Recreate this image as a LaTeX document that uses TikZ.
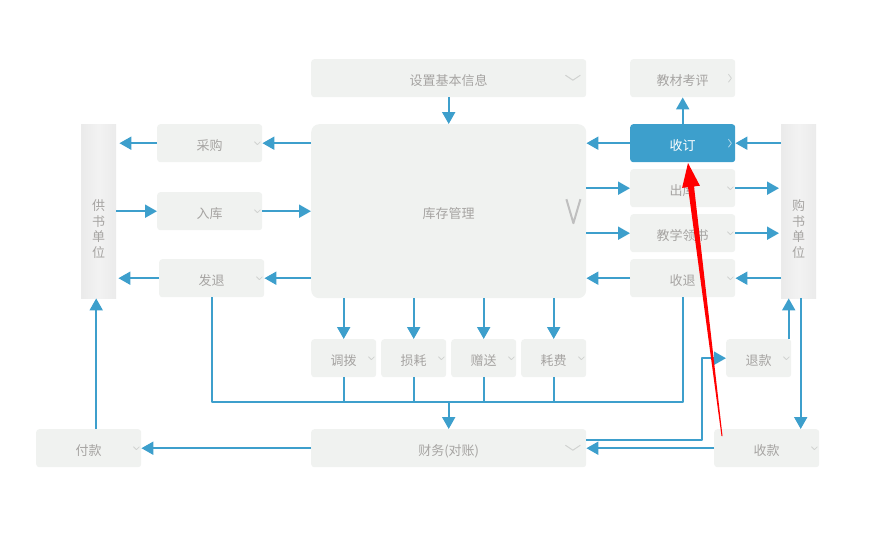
\documentclass[tikz,border=0pt]{standalone}
\usepackage{fontspec}
\setmainfont{Noto Sans CJK SC}
\usetikzlibrary{arrows.meta}
\definecolor{flowblue}{HTML}{3D9FCC}
\definecolor{boxgray}{HTML}{F0F2F0}
\definecolor{txtgray}{HTML}{A6A4A2}
\definecolor{chevgray}{HTML}{D0D2D0}
\begin{document}
\begin{tikzpicture}[x=1pt,y=-1pt,>={Triangle[length=12pt,width=13pt]},
    font=\fontsize{13}{15.5}\selectfont, line join=round]
  \tikzset{box/.style={fill=boxgray, rounded corners=3pt, anchor=north west, inner sep=0pt,
      minimum height=38pt, text height=15pt, text depth=0pt, text=txtgray},
    side/.style={left color=black!8, right color=black!8, middle color=black!5,
      anchor=north west, inner sep=0pt, minimum width=35pt, minimum height=174pt},
    flow/.style={draw=flowblue, line width=2pt},
    chev/.style={draw=chevgray, line width=0.8pt}}
  \useasboundingbox (0,0) rectangle (893,533);
  % top row
  \node[box, minimum width=275pt] (base) at (311,59) {设置基本信息};
  \node[box, minimum width=105pt] (pj) at (630,59) {教材考评};
  % middle
  \node[box, minimum width=275pt, minimum height=174pt, rounded corners=8pt] (kc) at (311,124) {库存管理};
  \node[box, minimum width=105pt] (cg) at (157,124) {采购};
  \node[box, minimum width=105pt] (rk) at (157,192) {入库};
  \node[box, minimum width=105pt] (ft) at (159,259) {发退};
  \node[box, minimum width=105pt, fill=flowblue, text=white] (sd) at (630,124) {收订};
  \node[box, minimum width=105pt] (ck) at (630,169) {出库};
  \node[box, minimum width=105pt] (lq) at (630,214) {教学领书};
  \node[box, minimum width=105pt] (st) at (630,259) {收退};
  \node[side] (gy) at (81,124) {};
  \node[side] (gs) at (781,124) {};
  \node[text=txtgray, align=center, inner sep=0pt] (gylabel) at (98.5,229) {供\\书\\单\\位};
  \node[text=txtgray, align=center, inner sep=0pt] (gslabel) at (798.5,229) {购\\书\\单\\位};
  % lower row
  \node[box, minimum width=65pt] (db) at (311,339) {调拨};
  \node[box, minimum width=65pt] (sh) at (381,339) {损耗};
  \node[box, minimum width=65pt] (zs) at (451,339) {赠送};
  \node[box, minimum width=65pt] (hf) at (521,339) {耗费};
  \node[box, minimum width=65pt] (tk) at (726,339) {退款};
  \node[box, minimum width=105pt] (fk) at (36,429) {付款};
  \node[box, minimum width=275pt] (cw) at (311,429) {财务(对账)};
  \node[box, minimum width=105pt] (sk) at (714,429) {收款};
  \coordinate (bus) at (0,402);
  \coordinate (bend) at (702,0);
  % connectors
  \draw[flow,->] (base) -- (kc);
  \draw[flow,->] (sd) -- (pj);
  \draw[flow,->] (kc.west |- cg) -- (cg);
  \draw[flow,->, shorten >=3pt] (cg) -- (cg -| gy.east);
  \draw[flow,->] (gy.east |- rk) -- (rk);
  \draw[flow,->] (rk) -- (rk -| kc.west);
  \draw[flow,->] (kc.west |- ft) -- (ft);
  \draw[flow,->, shorten >=2pt] (ft) -- (ft -| gy.east);
  \draw[flow,->] (sd) -- (sd -| kc.east);
  \draw[flow,->] (gs.west |- sd) -- (sd);
  \draw[flow,->] (kc.east |- ck) -- (ck);
  \draw[flow,->, shorten >=2pt] (ck) -- (ck -| gs.west);
  \draw[flow,->] (kc.east |- lq) -- (lq);
  \draw[flow,->, shorten >=2pt] (lq) -- (lq -| gs.west);
  \draw[flow,->] (st) -- (st -| kc.east);
  \draw[flow,->] (gs.west |- st) -- (st);
  \foreach \n in {db,sh,zs,hf} {
    \draw[flow,->] (kc.south -| \n) -- (\n);
    \draw[flow] (\n) -- (\n |- bus);
  }
  \draw[flow] (ft) |- (bus -| st.south) -- (st);
  \draw[flow,->] (bus -| cw) -- (cw);
  \draw[flow,->] ([xshift=-2.5pt]gy.south |- fk.north) -- ([xshift=-2.5pt]gy.south);
  \draw[flow,->] (cw) -- (fk);
  \draw[flow,->] (sk) -- (cw);
  \draw[flow,->] ([yshift=8pt]cw.east) -- ([yshift=8pt]cw.east -| bend) |- (tk);
  \draw[flow,->] ([xshift=-10pt]gs.south |- tk.north) -- ([xshift=-10pt]gs.south);
  \draw[flow,->] ([xshift=2pt]gs.south) -- ([xshift=2pt]gs.south |- sk.north);
  % chevrons
  \foreach \n in {cg,rk,ft,ck,lq,st,db,sh,zs,hf,fk,tk,sk}
    \draw[chev] ([xshift=-8pt,yshift=1.5pt]\n.east) -- ++(3,3) -- ++(3,-3);
  \draw[chev] ([xshift=-7pt,yshift=4pt]pj.east) -- ++(3,4) -- ++(-3,4);
  \draw[chev, draw=white!60!flowblue] ([xshift=-7pt,yshift=4pt]sd.east) -- ++(3,4) -- ++(-3,4);
  \draw[chev, line width=1pt] ([xshift=-21pt,yshift=3pt]base.east) -- ++(7.5,5) -- ++(7.5,-5);
  \draw[chev, line width=1pt] ([xshift=-21pt,yshift=3pt]cw.east) -- ++(7.5,5) -- ++(7.5,-5);
  \draw[draw=black!25, line width=2pt] ([xshift=-20pt,yshift=12pt]kc.east) -- ++(7,24) -- ++(7,-24);
  % red pointer
  \fill[red] (721.5,436) -- (688,187.2) -- (682.1,187.9) -- (688,163)
    -- (699.9,185.7) -- (694,186.4) -- (722.5,436) -- cycle;
\end{tikzpicture}
\end{document}
